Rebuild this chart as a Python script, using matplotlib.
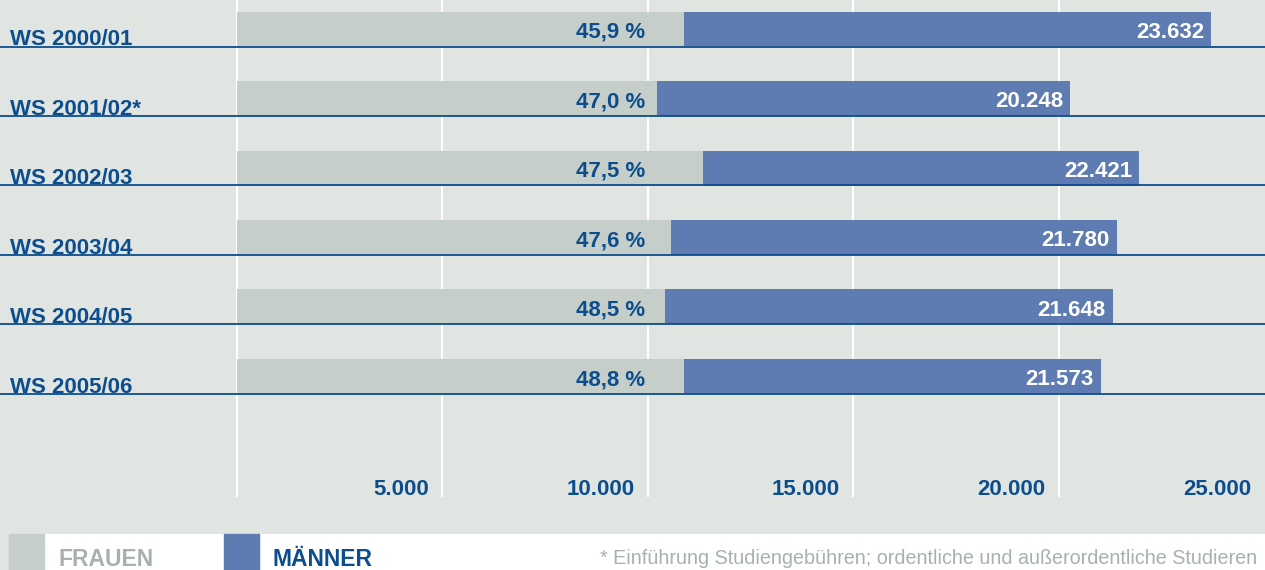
import matplotlib.pyplot as plt
from matplotlib.patches import Rectangle

plt.rcParams['font.family'] = ['Liberation Sans', 'DejaVu Sans']

# Daten
semester = ['WS 2000/01', 'WS 2001/02*', 'WS 2002/03', 'WS 2003/04', 'WS 2004/05', 'WS 2005/06']
frauen = [10880, 10220, 11340, 10570, 10420, 10880]
maenner = [12830, 10060, 10620, 10850, 10900, 10150]
anteil_frauen = ['45,9 %', '47,0 %', '47,5 %', '47,6 %', '48,5 %', '48,8 %']
gesamt = ['23.632', '20.248', '22.421', '21.780', '21.648', '21.573']
ticks = [5000, 10000, 15000, 20000, 25000]
tick_labels = ['5.000', '10.000', '15.000', '20.000', '25.000']

# Farben
BG = '#e0e5e1'
GRAU = '#c5cec9'
BLAU = '#5e7bb2'
DUNKELBLAU = '#0c4d8e'
TEXTGRAU = '#a6b2ab'

W, H = 1265, 570
fig = plt.figure(figsize=(W / 100, H / 100), dpi=100, facecolor='white')

# Achse: grauer Bereich oben, weisser Streifen fuer die Legende unten
ax = fig.add_axes([0, 36 / H, 1, 534 / H])
ax.set_facecolor(BG)
for s in ax.spines.values():
    s.set_visible(False)
ax.set_xticks([])
ax.set_yticks([])

px = 205.4 / 5000  # Pixel pro Einheit
x0 = 237
ax.set_xlim(-x0 / px, (W - x0) / px)
pitch = 69.5
ax.set_ylim((534 - 29) / pitch, -29 / pitch)

y = list(range(len(semester)))
h = 35 / pitch

# Gitterlinien
ax.vlines([0] + ticks[:-1], -29 / pitch, (497 - 29) / pitch, color='white', lw=1.5, zorder=1)

ax.barh(y, frauen, height=h, color=GRAU, zorder=2)
ax.barh(y, maenner, left=frauen, height=h, color=BLAU, zorder=2)

for i in y:
    ax.axhline(i + h / 2, color=DUNKELBLAU, lw=1.3, zorder=3)
    ax.text(-(x0 - 10) / px, i + h / 2 - 0.015, semester[i], ha='left', va='baseline',
            fontsize=16, fontweight='bold', color=DUNKELBLAU)
    ax.text((645 - x0) / px, i + 0.05, anteil_frauen[i], ha='right', va='center',
            fontsize=16, fontweight='bold', color=DUNKELBLAU, zorder=4)
    ax.text(frauen[i] + maenner[i] - 7 / px, i + 0.05, gesamt[i], ha='right', va='center',
            fontsize=16, fontweight='bold', color='white', zorder=4)

for t, lab in zip(ticks, tick_labels):
    ax.text(t - 13 / px, (490 - 29) / pitch, lab, ha='right', va='center',
            fontsize=16, fontweight='bold', color=DUNKELBLAU)

# Legende
fig.patches.append(Rectangle((0, 0), 9 / W, 36 / H, transform=fig.transFigure,
                             color=BG, zorder=0))
fig.patches.append(Rectangle((9 / W, 0), 35 / W, 36 / H, transform=fig.transFigure,
                             color=GRAU, zorder=0))
fig.patches.append(Rectangle((224 / W, 0), 35 / W, 36 / H, transform=fig.transFigure,
                             color=BLAU, zorder=0))
fig.text(59 / W, 4 / H, 'FRAUEN', ha='left', va='baseline', fontsize=16.5,
         fontweight='bold', color=TEXTGRAU)
fig.text(273 / W, 4 / H, 'MÄNNER', ha='left', va='baseline', fontsize=16.5,
         fontweight='bold', color=DUNKELBLAU)
fig.text(600 / W, 6 / H, '* Einführung Studiengebühren; ordentliche und außerordentliche Studieren',
         ha='left', va='baseline', fontsize=14.2, color=TEXTGRAU)

fig.savefig('out.png', dpi=100, facecolor='white')
